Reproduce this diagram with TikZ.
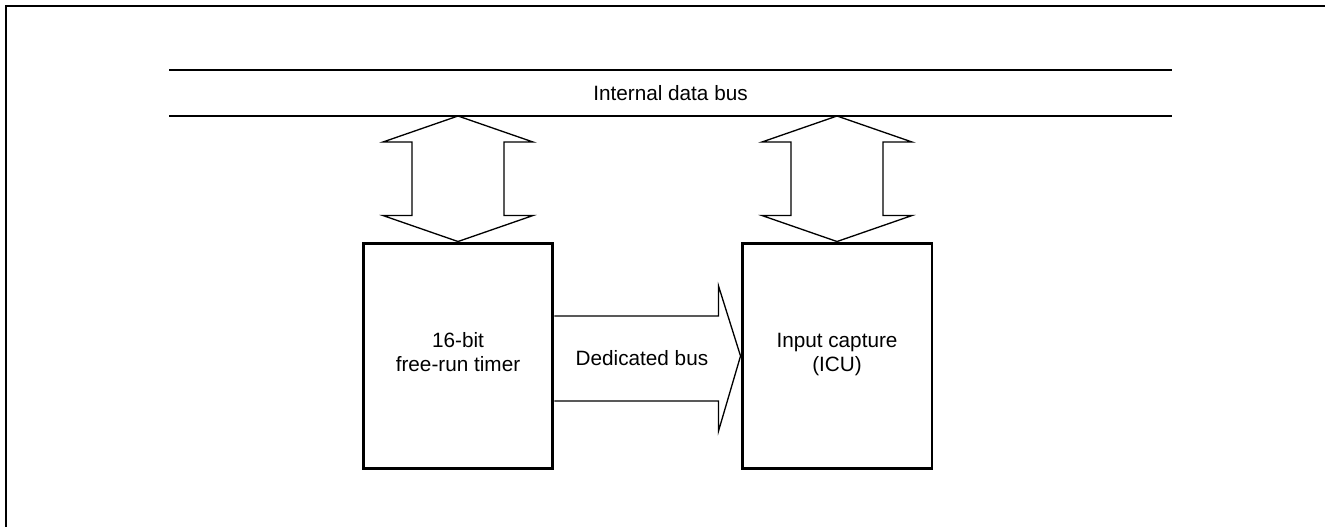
\documentclass[tikz,border=0pt]{standalone}
\usepackage{fontspec}
\setmainfont{Liberation Sans}
\usetikzlibrary{calc}

\begin{document}
\begin{tikzpicture}[
        x=0.02cm, y=-0.02cm,
        every node/.style = {
            font=\fontsize{11.8}{13.7}\selectfont,
            align=center
        },
        unit/.style = {
            draw,
            line width=1.7pt,
            minimum width=3.8cm,
            minimum height=4.52cm,
            inner sep=0pt
        },
        busline/.style = {line width=1.7pt},
        fatarrow/.style = {line width=0.75pt, line join=miter}]
    \useasboundingbox (0,0) rectangle (1325,527);
    \draw[line width=1.1pt] (6,527) -- (6,6) -- (1325,6);
    % internal data bus
    \draw[busline] (169,70) coordinate (busTL) -- (1172,70) coordinate (busTR);
    \draw[busline] (169,116) coordinate (busBL) -- (1172,116) coordinate (busBR);
    \node (busLabel) at ($(busTL)!0.5!(busBR)$) {Internal data bus};
    % blocks
    \node[unit] (timer) at (458,356) {16-bit\\free-run timer\strut};
    \node[unit] (icu) at (837,356) {Input capture\\(ICU)\strut};
    % bidirectional arrows to the bus
    \foreach \blk in {timer, icu}{
        \coordinate (tip) at (\blk.north |- busBL);
        \draw[fatarrow] (\blk.north) -- ++(-75,-26) -- ++(29,0)
            -- ($(tip)+(-46,26)$) -- ++(-29,0) -- (tip)
            -- ++(75,26) -- ++(-29,0) -- ($(\blk.north)+(46,-26)$)
            -- ++(29,0) -- cycle;
    }
    % dedicated bus
    \draw[fatarrow] ($(timer.east)+(0,-40)$) -- ($(icu.west)+(-22,-40)$)
        -- ++(0,-30) -- (icu.west) -- ++(-22,75) -- ++(0,-30)
        -- ($(timer.east)+(0,45)$);
    \node (dedLabel) at ($(timer.east)!0.47!(icu.west)+(0,2)$) {Dedicated bus};
\end{tikzpicture}
\end{document}
